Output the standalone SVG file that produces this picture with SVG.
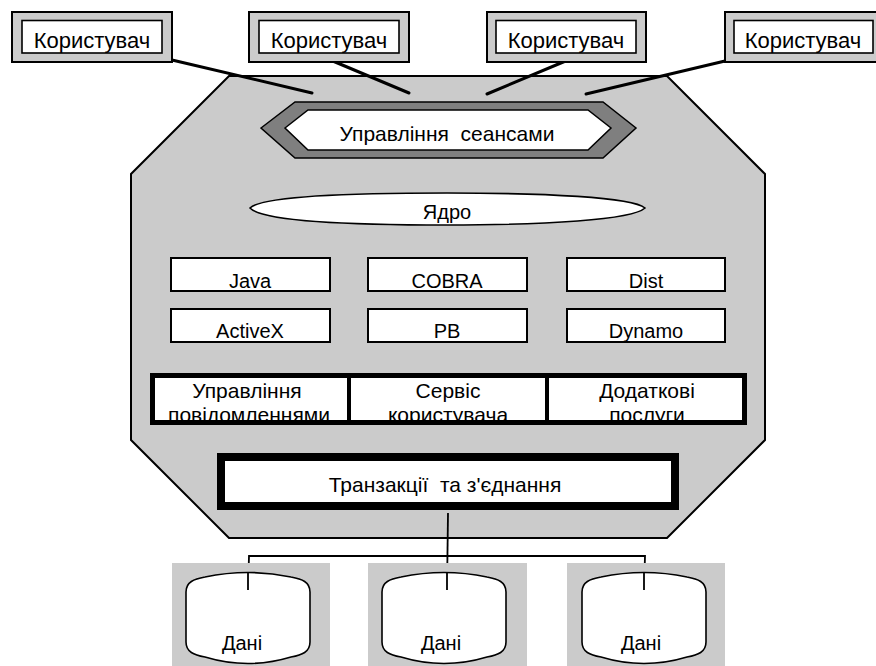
<svg xmlns="http://www.w3.org/2000/svg" width="876" height="666" viewBox="0 0 876 666">
  <style>
    text { font-family: "Liberation Sans", Arial, sans-serif; fill: #000; text-anchor: middle; }
    .lbl { font-size: 20px; }
    .big { font-size: 21px; }
    .usr { font-size: 22px; }
    .frame { fill: #cbcbcb; stroke: #000; stroke-width: 2; }
    .white { fill: #fff; stroke: #000; stroke-width: 1.6; }
    .mod { fill: #fff; stroke: #000; stroke-width: 2; }
    .link { fill: none; stroke: #000; stroke-width: 3; stroke-linecap: round; }
    .wire { fill: none; stroke: #000; stroke-width: 1.8; }
    .pad { fill: #cbcbcb; }
  </style>
  <defs>
    <clipPath id="clip-panels"><rect x="152" y="375" width="593" height="46"/></clipPath>
  </defs>

  <!-- application server body -->
  <g id="server">
    <polygon class="frame" points="229,76 667,76 765,174 765,440 667,538 229,538 131,440 131,174"/>
  </g>

  <!-- connectors -->
  <g id="connectors">
    <line class="link" x1="172" y1="60" x2="312" y2="93"/>
    <line class="link" x1="328" y1="59" x2="409" y2="93"/>
    <line class="link" x1="568" y1="60" x2="487" y2="94"/>
    <line class="link" x1="725" y1="61" x2="586" y2="94"/>
    <polyline class="wire" points="448,513 447,590"/>
    <polyline class="wire" points="248,590 249,556 645,556 644,590"/>
  </g>

  <!-- users -->
  <g id="user1">
    <rect class="frame" x="12" y="12" width="160" height="50"/>
    <rect class="white" x="22" y="20.5" width="140" height="32.5"/>
    <text class="usr" x="92" y="48">Користувач</text>
  </g>
  <g id="user2">
    <rect class="frame" x="249" y="12" width="160" height="50"/>
    <rect class="white" x="259" y="20.5" width="140" height="32.5"/>
    <text class="usr" x="329" y="48">Користувач</text>
  </g>
  <g id="user3">
    <rect class="frame" x="487" y="12" width="159" height="50"/>
    <rect class="white" x="496" y="20.5" width="140" height="32.5"/>
    <text class="usr" x="566" y="48">Користувач</text>
  </g>
  <g id="user4">
    <rect class="frame" x="725" y="12" width="160" height="50"/>
    <rect class="white" x="734" y="20.5" width="139" height="32.5"/>
    <text class="usr" x="803" y="48">Користувач</text>
  </g>

  <!-- session management -->
  <g id="sessions">
    <polygon points="261,128 295,102 603,102 636,128 603,158 295,158" fill="#7f7f7f" stroke="#000" stroke-width="1.5"/>
    <polygon points="285,128 308,110 588,110 611,128 588,150 308,150" fill="#fff" stroke="#000" stroke-width="1.5"/>
    <text class="big" x="447" y="141" xml:space="preserve">Управління  сеансами</text>
  </g>

  <!-- kernel -->
  <g id="kernel">
    <path d="M250,208 C262,196 350,193 447,193 C544,193 632,197 645,208 C632,220 544,225 447,225 C350,225 262,221 250,208 Z" fill="#fff" stroke="#000" stroke-width="1.6"/>
    <text class="lbl" x="447" y="219">Ядро</text>
  </g>

  <!-- component modules -->
  <g id="java">
    <rect class="mod" x="171" y="258" width="159" height="33"/>
    <text class="lbl" x="250" y="288">Java</text>
  </g>
  <g id="cobra">
    <rect class="mod" x="368" y="258" width="159" height="33"/>
    <text class="lbl" x="447" y="288">COBRA</text>
  </g>
  <g id="dist">
    <rect class="mod" x="567" y="258" width="158" height="33"/>
    <text class="lbl" x="646" y="288">Dist</text>
  </g>
  <g id="activex">
    <rect class="mod" x="171" y="309" width="159" height="33"/>
    <text class="lbl" x="250" y="338">ActiveX</text>
  </g>
  <g id="pb">
    <rect class="mod" x="368" y="309" width="159" height="33"/>
    <text class="lbl" x="447" y="338">PB</text>
  </g>
  <g id="dynamo">
    <rect class="mod" x="567" y="309" width="158" height="33"/>
    <text class="lbl" x="646" y="338">Dynamo</text>
  </g>

  <!-- service panels -->
  <g id="panels">
    <rect x="152.5" y="375.5" width="592" height="47" fill="#fff"/>
    <g clip-path="url(#clip-panels)">
      <text class="big" x="247" y="398">Управління</text>
      <text class="big" x="249" y="422">повідомленнями</text>
      <text class="big" x="448" y="398">Сервіс</text>
      <text class="big" x="448" y="422">користувача</text>
      <text class="big" x="647" y="398">Додаткові</text>
      <text class="big" x="647" y="422">послуги</text>
    </g>
    <rect x="152.5" y="375.5" width="592" height="47" fill="none" stroke="#000" stroke-width="5"/>
    <line x1="349" y1="375" x2="349" y2="423" stroke="#000" stroke-width="4"/>
    <line x1="547" y1="375" x2="547" y2="423" stroke="#000" stroke-width="4"/>
  </g>

  <!-- transactions -->
  <g id="transactions">
    <rect x="221" y="457" width="454" height="49" fill="#fff" stroke="#000" stroke-width="8"/>
    <text class="big" x="445" y="492" xml:space="preserve">Транзакції  та з'єднання</text>
  </g>

  <!-- data stores -->
  <g id="data1">
    <rect class="pad" x="172" y="563" width="158" height="103"/>
    <path class="white" d="M186,592 C186,582 194,579 205,577 Q248,568 291,577 C302,579 310,582 310,592 L310,642 C310,652 302,655 291,657 Q248,670 205,657 C194,655 186,652 186,642 Z"/>
    <text class="lbl" x="242" y="650">Дані</text>
  </g>
  <g id="data2">
    <rect class="pad" x="368" y="563" width="159" height="103"/>
    <path class="white" d="M382,592 C382,582 390,579 401,577 Q444,568 487,577 C498,579 506,582 506,592 L506,642 C506,652 498,655 487,657 Q444,670 401,657 C390,655 382,652 382,642 Z"/>
    <text class="lbl" x="441" y="650">Дані</text>
  </g>
  <g id="data3">
    <rect class="pad" x="567" y="563" width="158" height="103"/>
    <path class="white" d="M582,592 C582,582 590,579 601,577 Q644,568 687,577 C698,579 706,582 706,592 L706,642 C706,652 698,655 687,657 Q644,670 601,657 C590,655 582,652 582,642 Z"/>
    <text class="lbl" x="641" y="650">Дані</text>
  </g>
  <!-- drop lines run into the store tops -->
  <g id="connectors-top">
    <line class="wire" x1="248" y1="572" x2="248" y2="590"/>
    <line class="wire" x1="447" y1="572" x2="447" y2="590"/>
    <line class="wire" x1="644" y1="572" x2="644" y2="590"/>
  </g>
</svg>
